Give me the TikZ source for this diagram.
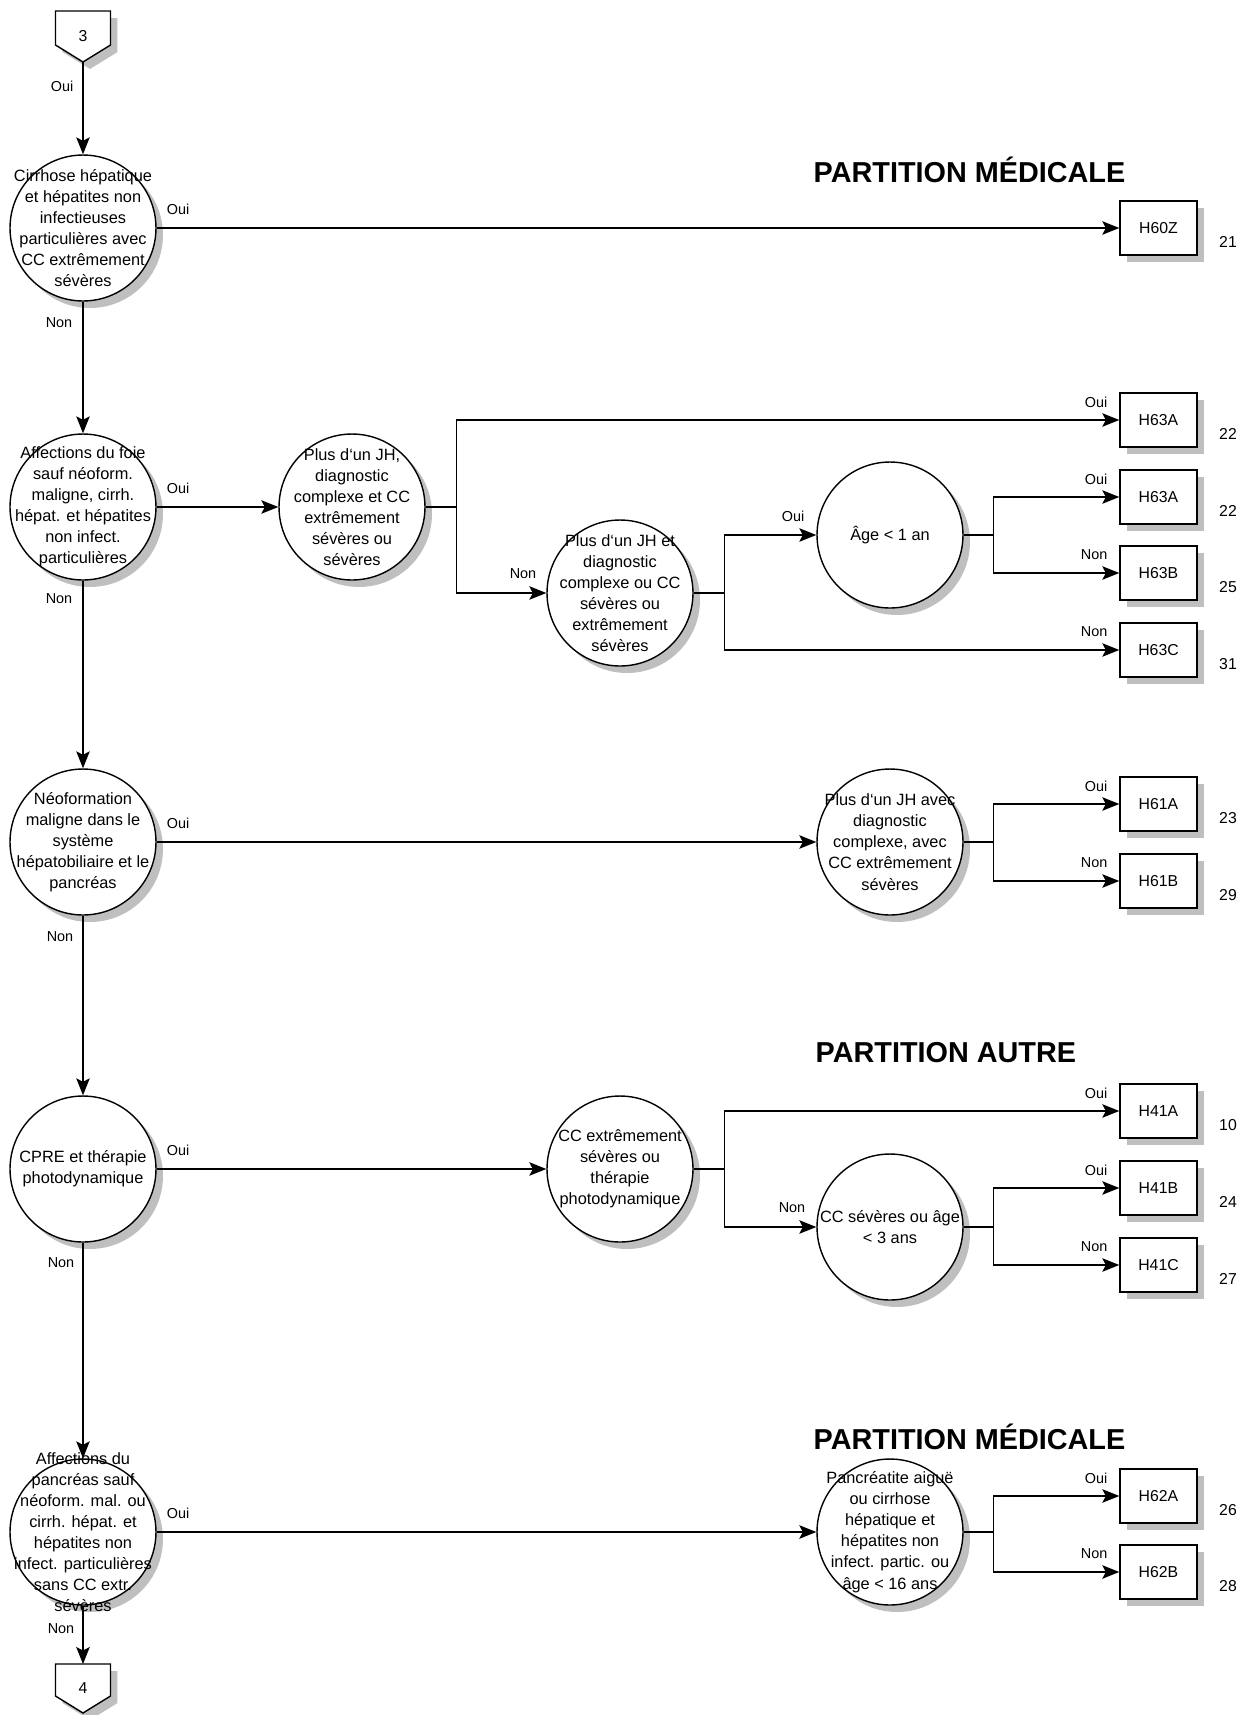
\documentclass[tikz,border=0pt]{standalone}
\usepackage{fontspec}
\setmainfont{Liberation Sans}
\usetikzlibrary{arrows.meta,shadows}
\begin{document}
\begin{tikzpicture}[x=0.02cm,y=-0.02cm,
  line width=0.8pt,
  shad/.style={drop shadow={shadow xshift=0.14cm,shadow yshift=-0.14cm,fill=black!25,opacity=1}},
  dec/.style={circle,draw,fill=white,shad,minimum size=2.92cm,inner sep=0pt},
  ctext/.style={font=\fontsize{9.3}{12}\selectfont,align=center,inner sep=0pt},
  leaf/.style={rectangle,draw,fill=white,shad,minimum width=1.54cm,minimum height=1.08cm,inner sep=0pt,font=\fontsize{9}{11}\selectfont},
  num/.style={font=\fontsize{9}{11}\selectfont,inner sep=0pt},
  yn/.style={font=\fontsize{8.2}{10}\selectfont,inner sep=0pt},
  title/.style={font=\fontsize{16.4}{19}\selectfont\bfseries,anchor=west,inner sep=0pt},
  arr/.style={-{Stealth[length=0.34cm,width=0.27cm,inset=0.07cm]}},
]
\newcommand\decnode[3]{\node[dec,label={[ctext]center:{#3}}] (#1) at #2 {};}
\newcommand\leafnode[5]{\node[leaf] (#1) at (1158.5,#2) {#3};
  \node[num] (#1n) at (1228,{#2+14}) {#4};
  \node[yn,anchor=east] (#1y) at (1108,{#2-18}) {#5};}
\useasboundingbox (0,0) rectangle (1250,1715);

% titles
\node[title] (t1) at (813,170) {PARTITION MÉDICALE};
\node[title] (t2) at (815,1053) {PARTITION AUTRE};
\node[title] (t3) at (813,1437) {PARTITION MÉDICALE};

% off-page connectors
\coordinate (k3tip) at (83,62);
\draw[fill=white,shad] (55.5,11) -- (110.5,11) -- (110.5,45) -- (k3tip) -- (55.5,45) -- cycle;
\node[num] (k3) at (83,36) {3};
\coordinate (k4top) at (83,1664);
\coordinate (k4tip) at (83,1713);
\draw[fill=white,shad] (k4top) -- (110.5,1664) -- (110.5,1696) -- (k4tip) -- (55.5,1696) -- (55.5,1664) -- cycle;
\node[num] (k4) at (83,1688) {4};

% decision circles
\decnode{c1}{(83,228)}{Cirrhose hépatique\\et hépatites non\\infectieuses\\particulières avec\\CC extrêmement\\sévères}
\decnode{c2}{(83,507)}{Affections du foie\\sauf néoform.\\maligne, cirrh.\\hépat. et hépatites\\non infect.\\particulières}
\decnode{c3}{(352,507)}{Plus d‘un JH,\\diagnostic\\complexe et CC\\extrêmement\\sévères ou\\sévères}
\decnode{c4}{(620,593)}{Plus d‘un JH et\\diagnostic\\complexe ou CC\\sévères ou\\extrêmement\\sévères}
\decnode{c5}{(890,535)}{Âge < 1 an}
\decnode{c6}{(83,842)}{Néoformation\\maligne dans le\\système\\hépatobiliaire et le\\pancréas}
\decnode{c7}{(890,842)}{Plus d‘un JH avec\\diagnostic\\complexe, avec\\CC extrêmement\\sévères}
\decnode{c8}{(83,1169)}{CPRE et thérapie\\photodynamique}
\decnode{c9}{(620,1169)}{CC extrêmement\\sévères ou\\thérapie\\photodynamique}
\decnode{c10}{(890,1227)}{CC sévères ou âge\\< 3 ans}
\decnode{c11}{(83,1532)}{Affections du\\pancréas sauf\\néoform. mal. ou\\cirrh. hépat. et\\hépatites non\\infect. particulières\\sans CC extr.\\sévères}
\decnode{c12}{(890,1532)}{Pancréatite aiguë\\ou cirrhose\\hépatique et\\hépatites non\\infect. partic. ou\\âge < 16 ans}

% leaves
\leafnode{b1}{228}{H60Z}{21}{}
\leafnode{b2}{420}{H63A}{22}{Oui}
\leafnode{b3}{497}{H63A}{22}{Oui}
\leafnode{b4}{573}{H63B}{25}{Non}
\leafnode{b5}{650}{H63C}{31}{Non}
\leafnode{b6}{804}{H61A}{23}{Oui}
\leafnode{b7}{881}{H61B}{29}{Non}
\leafnode{b8}{1111}{H41A}{10}{Oui}
\leafnode{b9}{1188}{H41B}{24}{Oui}
\leafnode{b10}{1265}{H41C}{27}{Non}
\leafnode{b11}{1496}{H62A}{26}{Oui}
\leafnode{b12}{1572}{H62B}{28}{Non}

% yes/no labels
\node[yn] (y0) at (62,86) {Oui};
\node[yn] (y1) at (178,209) {Oui};
\node[yn] (n1) at (59,323) {Non};
\node[yn] (y2) at (178,488) {Oui};
\node[yn] (n2) at (59,599) {Non};
\node[yn] (n3) at (523,574) {Non};
\node[yn] (y4) at (793,516) {Oui};
\node[yn] (y6) at (178,823) {Oui};
\node[yn] (n6) at (60,937) {Non};
\node[yn] (y8) at (178,1150) {Oui};
\node[yn] (n8) at (61,1263) {Non};
\node[yn] (n9) at (792,1208) {Non};
\node[yn] (y11) at (178,1513) {Oui};
\node[yn] (n11) at (61,1629) {Non};

% connectors
\draw[arr] (k3tip) -- (c1);
\draw[arr] (c1) -- (c2);
\draw[arr] (c2) -- (c6);
\draw[arr] (c6) -- (c8);
\draw[arr] (c8) -- (c11);
\draw[arr] (c11) -- (k4top);
\draw[arr] (c1) -- (b1);
\draw[arr] (c2) -- (c3);
\draw[arr] (c3.east) -- ++(31,0) |- (b2.west);
\draw[arr] (c3.east) -- ++(31,0) |- (c4.west);
\draw[arr] (c4.east) -- ++(31,0) |- (c5.west);
\draw[arr] (c4.east) -- ++(31,0) |- (b5.west);
\draw[arr] (c5.east) -- ++(30,0) |- (b3.west);
\draw[arr] (c5.east) -- ++(30,0) |- (b4.west);
\draw[arr] (c6) -- (c7);
\draw[arr] (c7.east) -- ++(30,0) |- (b6.west);
\draw[arr] (c7.east) -- ++(30,0) |- (b7.west);
\draw[arr] (c8) -- (c9);
\draw[arr] (c9.east) -- ++(31,0) |- (b8.west);
\draw[arr] (c9.east) -- ++(31,0) |- (c10.west);
\draw[arr] (c10.east) -- ++(30,0) |- (b9.west);
\draw[arr] (c10.east) -- ++(30,0) |- (b10.west);
\draw[arr] (c11) -- (c12);
\draw[arr] (c12.east) -- ++(30,0) |- (b11.west);
\draw[arr] (c12.east) -- ++(30,0) |- (b12.west);
\end{tikzpicture}
\end{document}
